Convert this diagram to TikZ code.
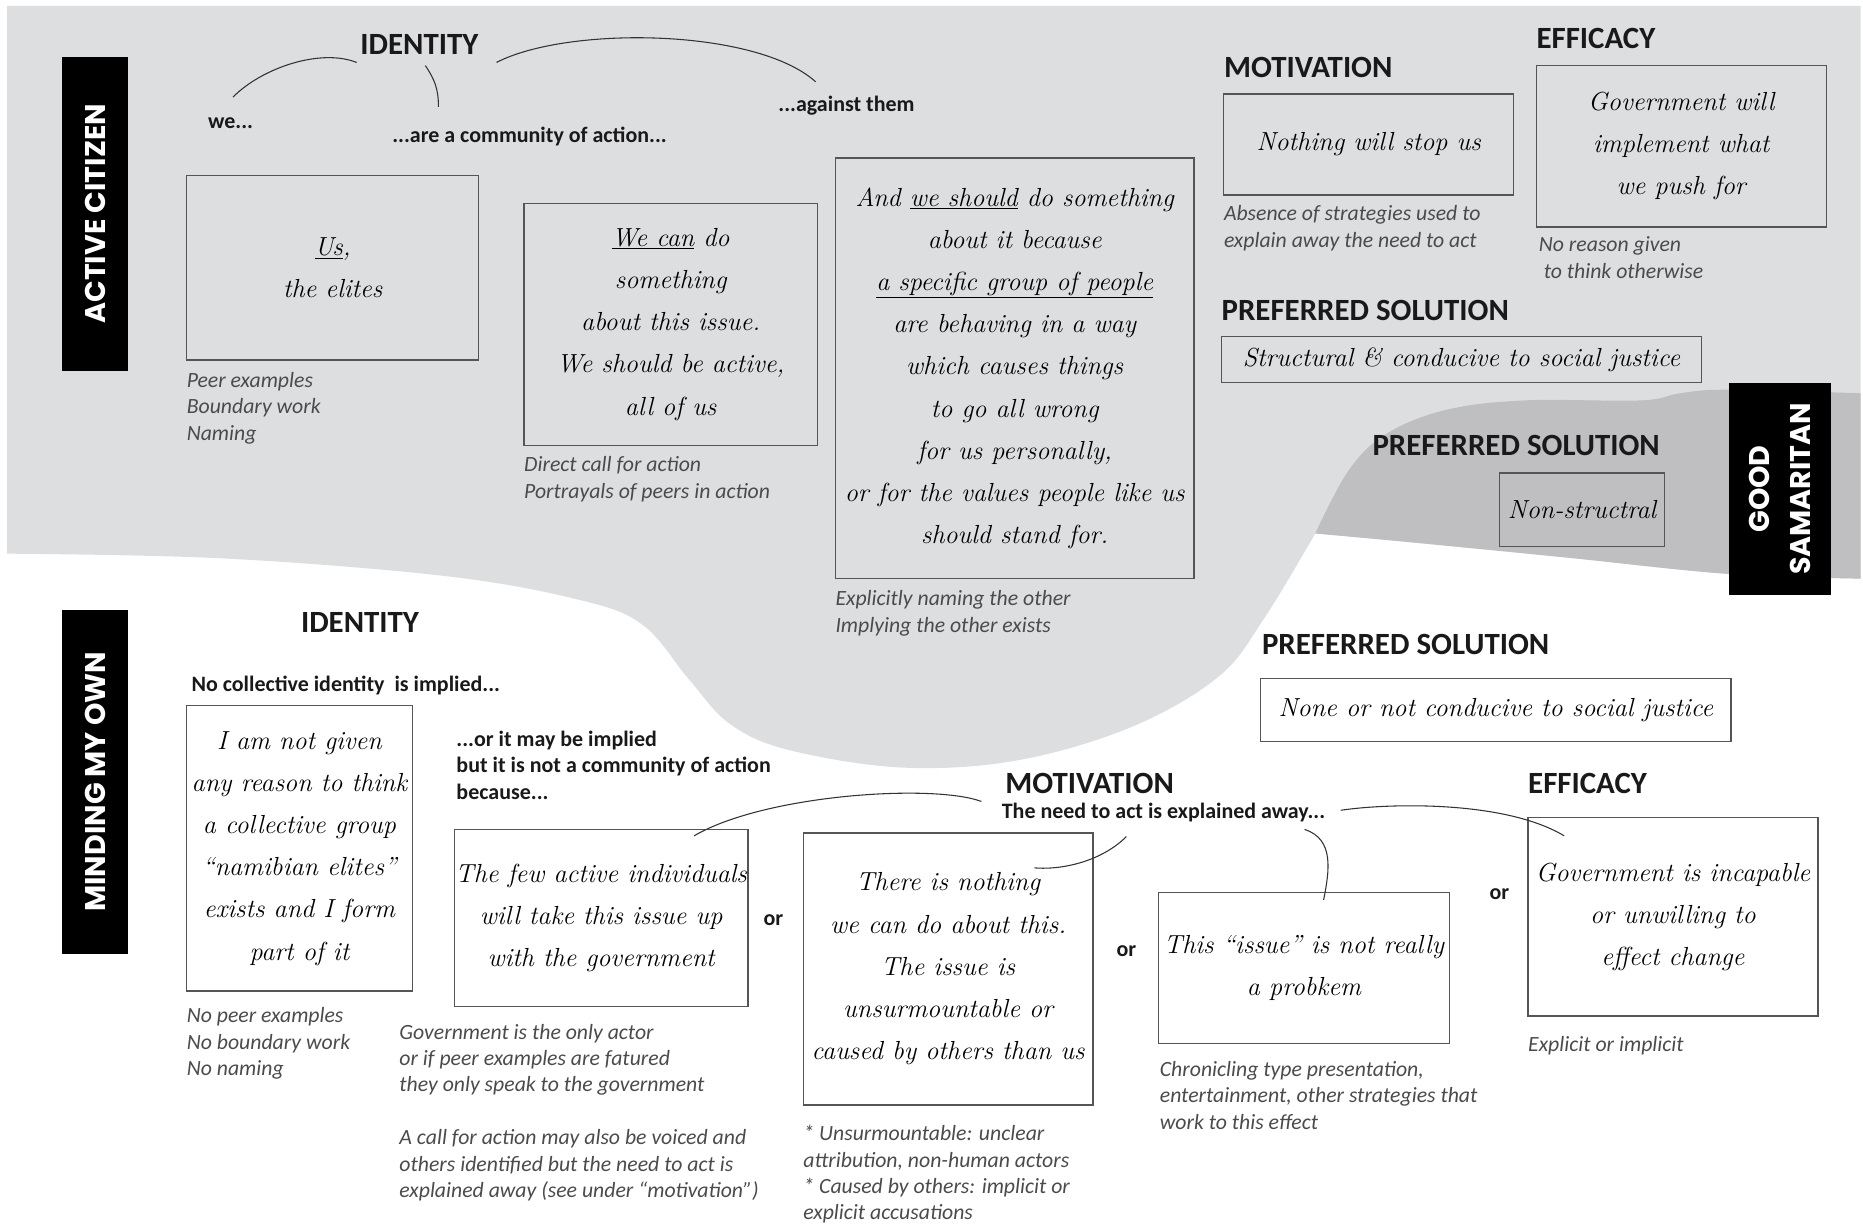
\documentclass[tikz,border=0pt]{standalone}
\usepackage{fontspec}
\setmainfont{Carlito}
\newfontfamily\bandfont{Poppins}
\newfontfamily\handfont{Latin Modern Roman}
\usepackage{tikz}
\usetikzlibrary{calc}
\definecolor{lightzone}{RGB}{221,222,224}
\definecolor{darkzone}{RGB}{191,191,193}
\definecolor{boxline}{RGB}{85,85,85}
\definecolor{notegrey}{RGB}{75,75,75}
\newcommand\handtext{\handfont\itshape\fontsize{22}{35.5}\selectfont}
\newcommand\headtext{\bfseries\fontsize{26}{30}\selectfont}
\newcommand\subtext{\bfseries\fontsize{18.5}{22.5}\selectfont}
\newcommand\notetext{\itshape\fontsize{18.3}{22.2}\selectfont}

\begin{document}
\begin{tikzpicture}[x=1pt,y=-1pt,
    box/.style={draw=boxline, line width=1.1pt, inner sep=1pt, align=center, font=\handtext},
    head/.style={font=\headtext, text=black!90, anchor=base west, inner sep=0pt},
    sub/.style={font=\subtext, text=black!90, anchor=base west, inner sep=0pt},
    note/.style={font=\notetext, text=notegrey, align=left, anchor=base west, inner sep=0pt},
    band/.style={fill=black, text=white, rotate=90, align=center, font=\bandfont\bfseries\fontsize{24}{34}\selectfont},
    link/.style={draw=black!80, line width=0.9pt}]
    \useasboundingbox (0,0) rectangle (1568,1032);
    %% Background zones
    \fill[lightzone] (6,5) -- (1566,5) -- (1566,487)
        -- plot[smooth, tension=0.6] coordinates {(1566,487) (1454,483) (1316,469) (1183,456) (1107,449)}
        -- plot[smooth, tension=0.6] coordinates {(1107,449) (1063,522) (1025,570) (952,612) (856,640) (759,646) (663,631) (614,609) (580,572) (541,526) (488,505) (376,485) (188,470) (6,466)}
        -- cycle;
    \fill[darkzone] plot[smooth, tension=0.6] coordinates {(1107,449) (1135,396) (1167,365) (1217,345) (1283,337) (1381,337) (1414,331) (1454,328) (1566,331)}
        -- (1566,487)
        -- plot[smooth, tension=0.6] coordinates {(1566,487) (1454,483) (1316,469) (1183,456) (1107,449)}
        -- cycle;
    %% Bands
    \node[band, minimum width=264pt, minimum height=56pt] (active) at (80,180) {ACTIVE CITIZEN};
    \node[band, minimum width=290pt, minimum height=56pt] (minding) at (80,658) {MINDING MY OWN};
    \node[band, minimum width=179pt, minimum height=86pt] (samaritan) at (1498,411.5) {GOOD\\SAMARITAN};
    %% Active citizen
    \node[head, anchor=base] (idTop) at (353,46) {IDENTITY};
    \node[sub] (we) at (175,108) {we...};
    \node[sub] (community) at (330,120) {...are a community of action...};
    \node[sub] (against) at (655,94) {...against them};
    \node[box, minimum width=246pt, minimum height=155pt] (us) at (280,225.5) {\underline{Us},\\the elites};
    \node[box, minimum width=247pt, minimum height=204pt] (wecan) at (564.5,273) {\underline{We can} do\\something\\about this issue.\\We should be active,\\all of us};
    \node[box, minimum width=302pt, minimum height=354pt] (should) at (854,310) {And \underline{we should} do something\\about it because\\\underline{a specific group of people}\\are behaving in a way\\which causes things\\to go all wrong\\for us personally,\\or for the values people like us\\should stand for.};
    \node[note] (usNote) at (157,370.4) {Peer examples\\Boundary work\\Naming};
    \node[note] (wecanNote) at (441,419.2) {Direct call for action\\Portrayals of peers in action};
    \node[note] (shouldNote) at (703,532.2) {Explicitly naming the other\\Implying the other exists};
    \node[head] (motTop) at (1030,65) {MOTIVATION};
    \node[box, minimum width=244pt, minimum height=85pt] (nothing) at (1152,121.5) {Nothing will stop us};
    \node[note] (nothingNote) at (1030,208.2) {Absence of strategies used to\\explain away the need to act};
    \node[head] (effTop) at (1293,41) {EFFICACY};
    \node[box, minimum width=244pt, minimum height=136pt] (govwill) at (1415,123) {Government will\\implement what\\we push for};
    \node[note] (govwillNote) at (1295,234.2) {No reason given\\\ to think otherwise};
    \node[head] (solTop) at (1028,270) {PREFERRED SOLUTION};
    \node[box, minimum width=404pt, minimum height=39pt] (structural) at (1230,302.5) {Structural \& conducive to social justice};
    %% Good samaritan
    \node[head] (solMid) at (1155,383) {PREFERRED SOLUTION};
    \node[box, minimum width=139pt, minimum height=62pt] (nonstr) at (1331.5,429) {Non-structral};
    %% Minding my own
    \node[head, anchor=base] (idBot) at (303,532) {IDENTITY};
    \node[sub] (nocoll) at (161,582) {No collective identity\ \ is implied...};
    \node[box, minimum width=190pt, minimum height=240pt] (notgiven) at (252,714) {I am not given\\any reason to think\\a collective group\\“namibian elites”\\exists and I form\\part of it};
    \node[note] (notgivenNote) at (157,905.4) {No peer examples\\No boundary work\\No naming};
    \node[sub, align=left] (implied) at (384,673) {...or it may be implied\\but it is not a community of action\\because...};
    \node[box, minimum width=244pt, minimum height=149pt] (few) at (506,772.5) {The few active individuals\\will take this issue up\\with the government};
    \node[note] (fewNote) at (336,1007.8) {Government is the only actor\\or if peer examples are fatured\\they only speak to the government\\[22.2pt]A call for action may also be voiced and\\others identified but the need to act is\\explained away (see under “motivation”)};
    \node[sub, anchor=base] (orA) at (651,779) {or};
    \node[head] (motBot) at (846,668) {MOTIVATION};
    \node[sub] (away) at (843,689) {The need to act is explained away...};
    \node[box, minimum width=244pt, minimum height=229pt] (nothingcan) at (798,815.5) {There is nothing\\we can do about this.\\The issue is\\unsurmountable or\\caused by others than us};
    \node[note] (nothingcanNote) at (676,1026.6) {* Unsurmountable: unclear\\attribution, non-human actors\\* Caused by others: implicit or\\explicit accusations};
    \node[sub, anchor=base] (orB) at (948,805) {or};
    \node[box, minimum width=245pt, minimum height=127pt] (notreally) at (1097.5,814.5) {This “issue” is not really\\a probkem};
    \node[note] (notreallyNote) at (976,950.4) {Chronicling type presentation,\\entertainment, other strategies that\\work to this effect};
    \node[sub, anchor=base] (orC) at (1262,757) {or};
    \node[head] (effBot) at (1286,668) {EFFICACY};
    \node[box, minimum width=244pt, minimum height=167pt] (incapable) at (1408,771.5) {Government is incapable\\or unwilling to\\effect change};
    \node[note] (incapableNote) at (1286,885) {Explicit or implicit};
    \node[head] (solBot) at (1062,551) {PREFERRED SOLUTION};
    \node[box, minimum width=396pt, minimum height=53pt] (none) at (1259,597.5) {None or not conducive to social justice};
    %% Links
    \draw[link] ([shift={(2,-17)}]we.north) .. controls +(25,-25) and +(-30,-12) .. ([shift={(-3,15)}]idTop.west);
    \draw[link] ([shift={(5,9)}]idTop.south) .. controls +(8,12) and +(0,-15) .. ([shift={(39,-25)}]community.west);
    \draw[link] ([shift={(15,15)}]idTop.east) .. controls +(60,-31) and +(-50,-45) .. ([shift={(-26,-12)}]against.north);
    \draw[link] ([shift={(-46,6)}]few.north east) .. controls +(60,-35) and +(-40,-15) .. ([shift={(-20,15)}]motBot.west);
    \draw[link] ([shift={(105,12)}]away.south west) .. controls +(-20,20) and +(25,2) .. ([shift={(-50,30)}]nothingcan.north east);
    \draw[link] ([shift={(255,6)}]away.south west) .. controls +(25,8) and +(5,-25) .. ([shift={(16.5,7)}]notreally.north);
    \draw[link] ([shift={(13,-2)}]away.east) .. controls +(40,-6) and +(-50,-30) .. ([shift={(31,16)}]incapable.north west);
\end{tikzpicture}
\end{document}
